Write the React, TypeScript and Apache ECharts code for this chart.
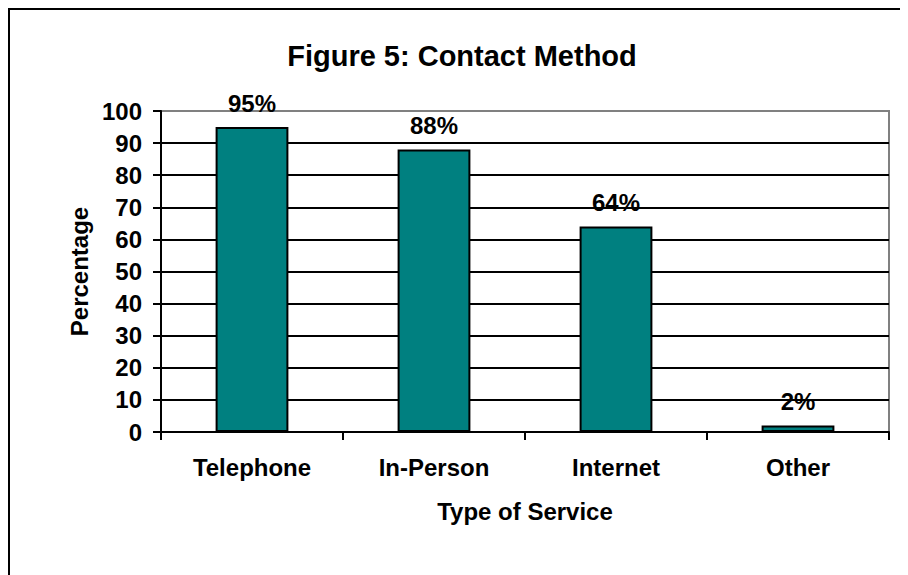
import React, { useEffect, useRef } from "react";
import * as echarts from "echarts";

const categories = ["Telephone", "In-Person", "Internet", "Other"];
const values = [95, 88, 64, 2];
const yTicks = { min: 0, max: 100, interval: 10 };
const titleText = "Figure 5: Contact Method";
const yName = "Percentage";
const xName = "Type of Service";

const FONT = "'Liberation Sans', Arial, sans-serif";

export default function App() {
  const ref = useRef<HTMLDivElement>(null);
  useEffect(() => {
    if (!ref.current) return;
    const chart = echarts.init(ref.current, undefined, { renderer: "svg" });
    const splitColors = Array.from({ length: 11 }, (_, i) => (i === 10 ? "#808080" : "#000000"));
    chart.setOption({
      animation: false,
      backgroundColor: "#ffffff",
      textStyle: { fontFamily: FONT },
      title: {
        text: titleText,
        left: "center",
        top: 28,
        textStyle: { fontFamily: FONT, fontWeight: "bold", fontSize: 29, color: "#000" },
      },
      graphic: [
        {
          type: "rect",
          shape: { x: 1, y: 1, width: 1200, height: 1200 },
          style: { fill: "none", stroke: "#000", lineWidth: 2 },
          silent: true,
        },
      ],
      grid: {
        left: 153,
        top: 103,
        right: 27,
        bottom: 151,
        show: true,
        borderColor: "#808080",
        borderWidth: 2,
        backgroundColor: "transparent",
      },
      xAxis: {
        type: "category",
        data: categories,
        name: xName,
        nameLocation: "middle",
        nameGap: 67,
        nameTextStyle: { fontFamily: FONT, fontWeight: "bold", fontSize: 24, color: "#000" },
        axisLine: { show: true, lineStyle: { color: "#000", width: 2 } },
        axisTick: { show: true, length: 8, inside: false, lineStyle: { color: "#000", width: 2 } },
        axisLabel: { margin: 23, fontFamily: FONT, fontWeight: "bold", fontSize: 24, color: "#000" },
        splitLine: { show: false },
      },
      yAxis: {
        type: "value",
        min: yTicks.min,
        max: yTicks.max,
        interval: yTicks.interval,
        name: yName,
        nameLocation: "middle",
        nameGap: 70,
        nameTextStyle: { fontFamily: FONT, fontWeight: "bold", fontSize: 24, color: "#000" },
        axisLine: { show: true, lineStyle: { color: "#000", width: 2 } },
        axisTick: { show: true, length: 8, inside: false, lineStyle: { color: "#000", width: 2 } },
        axisLabel: { margin: 19, fontFamily: FONT, fontWeight: "bold", fontSize: 24, color: "#000" },
        splitLine: { show: true, lineStyle: { color: splitColors, width: 2 } },
      },
      series: [
        {
          type: "bar",
          data: values,
          barWidth: "40%",
          itemStyle: { color: "#008080", borderColor: "#000", borderWidth: 2 },
          label: {
            show: true,
            position: "top",
            distance: 12,
            formatter: "{c}%",
            fontFamily: FONT,
            fontWeight: "bold",
            fontSize: 24,
            color: "#000",
          },
        },
      ],
    });
    return () => chart.dispose();
  }, []);
  return <div ref={ref} style={{ width: 908, height: 575 }} />;
}
